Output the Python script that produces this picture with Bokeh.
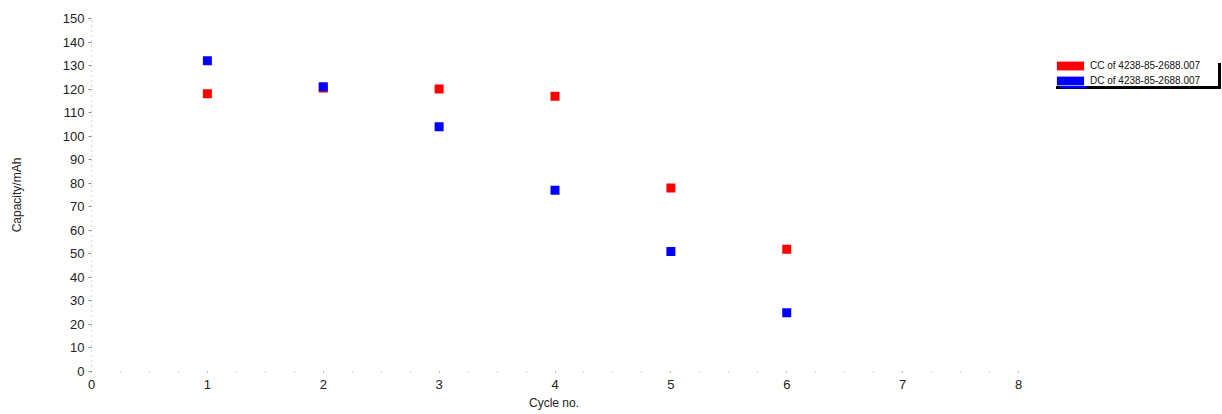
from bokeh.plotting import figure
from bokeh.models import Legend, LegendItem, FixedTicker, Range1d, ColumnDataSource, Title
from bokeh.embed import file_html
from bokeh.resources import INLINE

# Capacity per cycle, charge (CC) and discharge (DC)
cycles = [1, 2, 3, 4, 5, 6]
cc_capacity = [118, 120.5, 120, 117, 78, 52]
dc_capacity = [132, 121, 104, 77, 51, 25]
cell_id = "4238-85-2688.007"

x_ticks = [0, 1, 2, 3, 4, 5, 6, 7, 8]
y_ticks = [0, 10, 20, 30, 40, 50, 60, 70, 80, 90, 100, 110, 120, 130, 140, 150]

FONT = "Liberation Sans"
W, H = 1222, 414
LEFT, TOP, BOTTOM = 91, 18, 43
AXIS_W = 927  # pixels spanned by cycles 0..8

# the frame runs to the right edge so the legend can sit inside it
x_end = 8 * (W - LEFT) / AXIS_W

p = figure(width=W, height=H, output_backend="svg", toolbar_location=None,
           x_range=Range1d(0, x_end), y_range=Range1d(0, 150),
           min_border_left=LEFT, min_border_right=0, min_border_top=TOP,
           min_border_bottom=BOTTOM)
p.outline_line_color = None
p.xgrid.grid_line_color = None
p.ygrid.grid_line_color = None
p.background_fill_color = "white"
p.border_fill_color = "white"

src_cc = ColumnDataSource(dict(x=cycles, y=cc_capacity))
src_dc = ColumnDataSource(dict(x=cycles, y=dc_capacity))
p.scatter("x", "y", source=src_cc, marker="square", size=9, fill_color="#ff0000", line_color=None)
p.scatter("x", "y", source=src_dc, marker="square", size=9, fill_color="#0000ff", line_color=None)

# axes: dotted, light
xa = p.xaxis[0]
xa.bounds = (x_ticks[0], x_ticks[-1])
xa.ticker = FixedTicker(ticks=x_ticks, minor_ticks=[i * 0.25 for i in range(33)])
xa.axis_line_color = None
xa.major_tick_line_color = "#999999"
xa.major_tick_in = 0
xa.major_tick_out = 1
xa.minor_tick_line_color = "#aaaaaa"
xa.minor_tick_in = 0
xa.minor_tick_out = 1
xa.major_label_standoff = 7
xa.major_label_text_font = FONT
xa.major_label_text_font_size = "13px"
xa.major_label_text_color = "#222222"

# x-axis caption, centred under cycles 0..8 rather than the full frame
x_caption = "Cycle no."
p.add_layout(Title(text=x_caption, align="left", offset=AXIS_W / 2 - 26,
                   text_font=FONT, text_font_size="12px", text_font_style="normal",
                   text_color="#222222", standoff=4), "below")

ya = p.yaxis[0]
ya.ticker = FixedTicker(ticks=y_ticks)
ya.axis_line_color = "#aaaaaa"
ya.axis_line_dash = "1 4"
ya.major_tick_line_color = "#888888"
ya.major_tick_in = 0
ya.major_tick_out = 3
ya.minor_tick_line_color = None
ya.major_label_standoff = 4
ya.major_label_text_font = FONT
ya.major_label_text_font_size = "13px"
ya.major_label_text_color = "#222222"
ya.axis_label = "Capacity/mAh"
ya.axis_label_text_font = FONT
ya.axis_label_text_font_size = "12px"
ya.axis_label_text_font_style = "normal"
ya.axis_label_text_color = "#222222"
ya.axis_label_standoff = 36

# legend swatches (renderers that draw nothing in the plot itself)
nan = float("nan")
sw_cc = p.quad(left=[nan], right=[nan], top=[nan], bottom=[nan], fill_color="#ff0000", line_color=None)
sw_dc = p.quad(left=[nan], right=[nan], top=[nan], bottom=[nan], fill_color="#0000ff", line_color=None)


def make_legend(loc, bg, labels):
    items = [LegendItem(label=labels[0], renderers=[sw_cc]),
             LegendItem(label=labels[1], renderers=[sw_dc])]
    return Legend(items=items, location=loc, orientation="vertical",
                  glyph_width=34, glyph_height=11, label_standoff=3,
                  label_text_font=FONT, label_text_font_size="10px",
                  label_text_color="#111111", label_height=11, label_width=128,
                  padding=3, spacing=4, margin=0,
                  border_line_color=None,
                  background_fill_color=bg, background_fill_alpha=1.0)


# black drop shadow behind the white legend box
shadow = make_legend((965, 282), "black", [" ", " "])
main = make_legend((962, 285), "white", ["CC of " + cell_id, "DC of " + cell_id])
p.add_layout(shadow, "center")
p.add_layout(main, "center")

open("out.html", "w").write(file_html(p, INLINE))
